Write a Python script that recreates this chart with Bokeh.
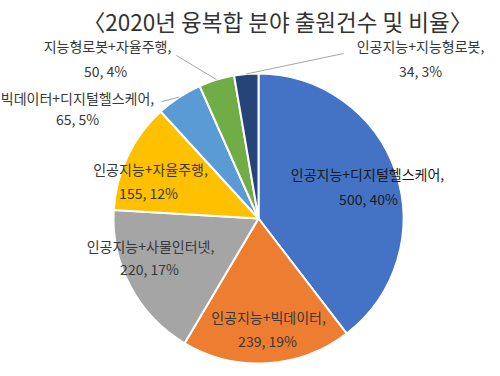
import numpy as np
from bokeh.plotting import figure
from bokeh.models import Range1d, ColumnDataSource
from bokeh.core.properties import value
from bokeh.embed import file_html
from bokeh.resources import INLINE

# ---- data ----
categories = ["인공지능+디지털헬스케어", "인공지능+빅데이터", "인공지능+사물인터넷",
              "인공지능+자율주행", "빅데이터+디지털헬스케어", "지능형로봇+자율주행",
              "인공지능+지능형로봇"]
counts = [500, 239, 220, 155, 65, 50, 34]
percents = [40, 19, 17, 12, 5, 4, 3]
colors = ["#4472C4", "#ED7D31", "#A5A5A5", "#FFC000", "#5B9BD5", "#70AD47", "#264478"]
title_text = "〈2020년 융복합 분야 출원건수 및 비율〉"

# ---- layout (pixel coordinates, y measured from top) ----
W, H = 500, 376
CX, CY, R = 258, 218, 145
label1_pos = [(367, 173), (268, 316), (150, 245), (150, 168), (77, 97), (107, 45), (420, 45)]
label2_pos = [(368, 198), (267, 340), (149, 268), (148, 192), (77, 118), (105, 70), (420, 70)]
label_colors = ["#1a1a1a", "#383838", "#383838", "#383838", "#383838", "#383838", "#383838"]
leader_start = {4: (161, 101), 5: (176, 55), 6: (343, 53)}

def fy(py):
    return H - py

p = figure(width=W, height=H, output_backend="svg", toolbar_location=None,
           x_range=Range1d(0, W), y_range=Range1d(0, H), min_border=0)
p.axis.visible = False
p.grid.visible = False
p.outline_line_color = None
p.background_fill_color = "white"
p.border_fill_color = "white"

total = float(sum(counts))
frac = np.array(counts) / total
cum_end = np.cumsum(frac)
cum_start = cum_end - frac
start_angle = np.pi / 2 - 2 * np.pi * cum_end
end_angle = np.pi / 2 - 2 * np.pi * cum_start
mid = (start_angle + end_angle) / 2

src = ColumnDataSource(dict(start=start_angle, end=end_angle, color=colors))
p.wedge(x=CX, y=fy(CY), radius=R, start_angle="start", end_angle="end",
        direction="anticlock", fill_color="color", line_color="white",
        line_width=2, source=src)

# leader lines
for i, (sx, sy) in leader_start.items():
    ex = CX + R * np.cos(mid[i])
    ey = fy(CY) + R * np.sin(mid[i])
    p.line([sx, ex], [fy(sy), ey], line_color="#A6A6A6", line_width=1)

font = value("Noto Sans CJK KR")
l1x = [q[0] for q in label1_pos]
l1y = [fy(q[1]) for q in label1_pos]
l2x = [q[0] for q in label2_pos]
l2y = [fy(q[1]) for q in label2_pos]
t1 = [c + "," for c in categories]
t2 = [f"{v}, {pc}%" for v, pc in zip(counts, percents)]
p.text(x=l1x, y=l1y, text=t1, text_font=font, text_font_size="14px",
       text_align="center", text_baseline="middle", text_color=label_colors)
p.text(x=l2x, y=l2y, text=t2, text_font=font, text_font_size="14px",
       text_align="center", text_baseline="middle", text_color=label_colors)

p.text(x=[277], y=[fy(20)], text=[title_text], text_font=font,
       text_font_size="22.5px", text_align="center", text_baseline="middle",
       text_color="#333333")

open("out.html", "w").write(file_html(p, INLINE))
